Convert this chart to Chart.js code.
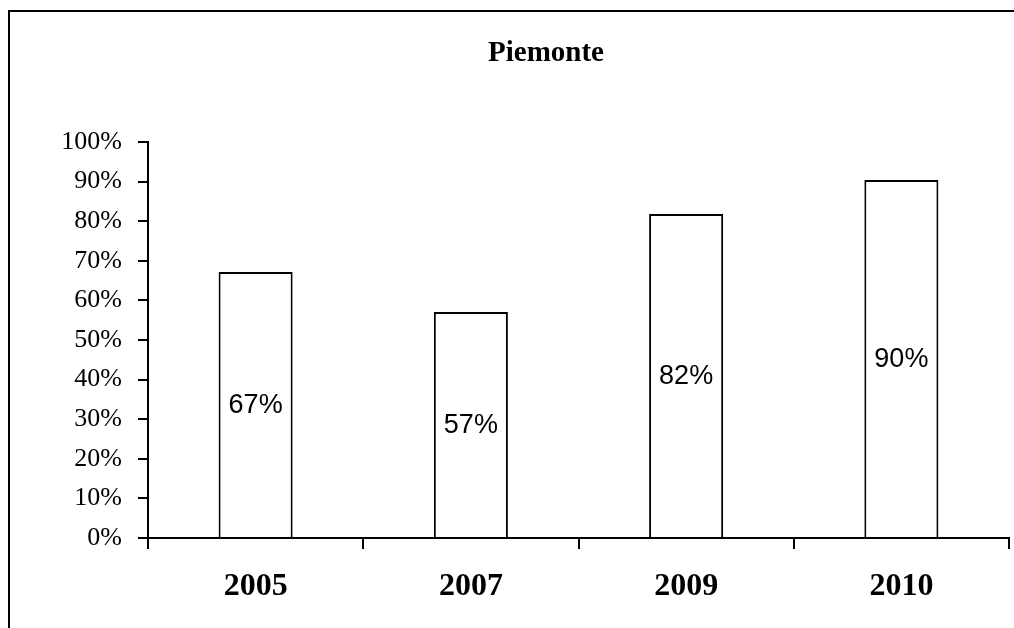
<!DOCTYPE html>
<html>
<head>
<meta charset="utf-8">
<script src="https://cdn.jsdelivr.net/npm/chart.js@4/dist/chart.umd.min.js"></script>
<style>
  html, body { margin: 0; padding: 0; background: #fff; }
  #wrap { position: relative; width: 1014px; height: 628px; overflow: hidden; }
  #frame { position: absolute; left: 8px; top: 10px; width: 1100px; height: 700px;
           border-left: 2px solid #000; border-top: 2px solid #000; pointer-events: none; }
  canvas { position: absolute; left: 0; top: 0; }
</style>
</head>
<body>
<div id="wrap">
  <canvas id="c" width="1014" height="628"></canvas>
  <div id="frame"></div>
</div>
<script>
const chartTitle = "Piemonte";
const categories = ["2005", "2007", "2009", "2010"];
const values = [67.2, 57.1, 81.8, 90.4];
const yTickValues = [0, 10, 20, 30, 40, 50, 60, 70, 80, 90, 100];

const barLabels = {
  id: 'barLabels',
  afterDatasetsDraw(chart) {
    const ctx = chart.ctx;
    const meta = chart.getDatasetMeta(0);
    ctx.save();
    ctx.font = '27px "Liberation Sans", Arial, sans-serif';
    ctx.fillStyle = '#000';
    ctx.textAlign = 'center';
    ctx.textBaseline = 'middle';
    meta.data.forEach((el, i) => {
      const v = chart.data.datasets[0].data[i];
      ctx.fillText(Math.round(v) + '%', el.x, (el.y + el.base) / 2 + 1);
    });
    ctx.restore();
  }
};

const titlePlugin = {
  id: 'titlePlugin',
  afterDraw(chart) {
    const ctx = chart.ctx;
    ctx.save();
    ctx.font = 'bold 29px "Liberation Serif", "Times New Roman", serif';
    ctx.fillStyle = '#000';
    ctx.textAlign = 'center';
    ctx.textBaseline = 'middle';
    ctx.fillText(chartTitle, 546, 54);
    ctx.restore();
  }
};

Chart.defaults.color = '#000';

new Chart(document.getElementById('c'), {
  type: 'bar',
  data: {
    labels: categories,
    datasets: [{
      data: values,
      backgroundColor: '#ffffff',
      borderColor: '#000000',
      borderWidth: 2,
      borderSkipped: 'bottom',
      barPercentage: 0.344,
      categoryPercentage: 1.0
    }]
  },
  options: {
    responsive: false,
    animation: false,
    layout: { padding: { left: 0, right: 5, top: 142, bottom: 0 } },
    plugins: {
      legend: { display: false },
      tooltip: { enabled: false },
      title: { display: false }
    },
    scales: {
      x: {
        afterFit(scale) { scale.height = 90; },
        grid: { display: true, offset: true, drawOnChartArea: false, drawTicks: true, tickLength: 11, color: '#000', lineWidth: 2 },
        border: { display: true, color: '#000', width: 2 },
        ticks: {
          color: '#000',
          padding: 19,
          font: { family: '"Liberation Serif", "Times New Roman", serif', size: 32, weight: 'bold' }
        }
      },
      y: {
        min: 0,
        max: 100,
        afterFit(scale) { scale.width = 148; },
        afterBuildTicks(scale) { scale.ticks = yTickValues.map(v => ({ value: v })); },
        grid: { display: true, drawOnChartArea: false, drawTicks: true, tickLength: 10, color: '#000', lineWidth: 2 },
        border: { display: true, color: '#000', width: 2 },
        ticks: {
          color: '#000',
          padding: 16,
          callback: (v) => v + '%',
          font: { family: '"Liberation Serif", "Times New Roman", serif', size: 26 }
        }
      }
    }
  },
  plugins: [barLabels, titlePlugin]
});
</script>
</body>
</html>
